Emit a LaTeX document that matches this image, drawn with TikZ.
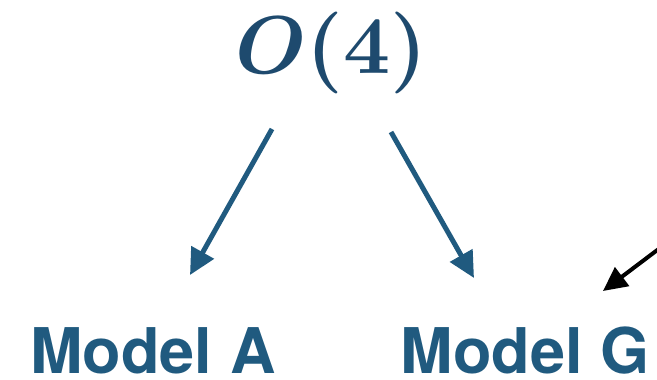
\documentclass[tikz,border=0pt]{standalone}
\usepackage{amsmath}
\usepackage{graphicx}
\usepackage{fontspec}
\newfontfamily\heros{TeX Gyre Heros}
\usetikzlibrary{arrows.meta}
\definecolor{modelblue}{RGB}{32,90,127}
\definecolor{obl}{RGB}{30,74,110}
\newcommand\modelfont{\heros\bfseries\fontsize{63}{70}\selectfont}
\tikzset{
  modeltext/.style={font=\modelfont, text=modelblue, inner sep=0pt, anchor=base, text depth=0pt},
  grouptext/.style={text=obl, inner sep=0pt, anchor=base},
  bluearrow/.style={draw=modelblue, line width=5pt, -{Triangle[length=26pt,width=25pt]}},
  blackarrow/.style={draw=black, line width=4pt, -{Triangle[length=24pt,width=23pt]}}
}
\begin{document}
\begin{tikzpicture}[x=1pt,y=-1pt]
\useasboundingbox (0,0) rectangle (657,380);
\node[grouptext] (grp) at (331,74) {\scalebox{8.2}{\boldmath$O(4)$}};
\node[modeltext] (ma) at (153,373) {Model A};
\node[modeltext] (mg) at (525,373) {Model G};
\coordinate (s1) at (272,129);
\coordinate (e1) at (190,275);
\coordinate (s2) at (391,132);
\coordinate (e2) at (474,278);
\coordinate (s3) at (660,248);
\coordinate (e3) at (603,291);
\draw[bluearrow] (s1) -- (e1);
\draw[bluearrow] (s2) -- (e2);
\draw[blackarrow] (s3) -- (e3);
\end{tikzpicture}
\end{document}
